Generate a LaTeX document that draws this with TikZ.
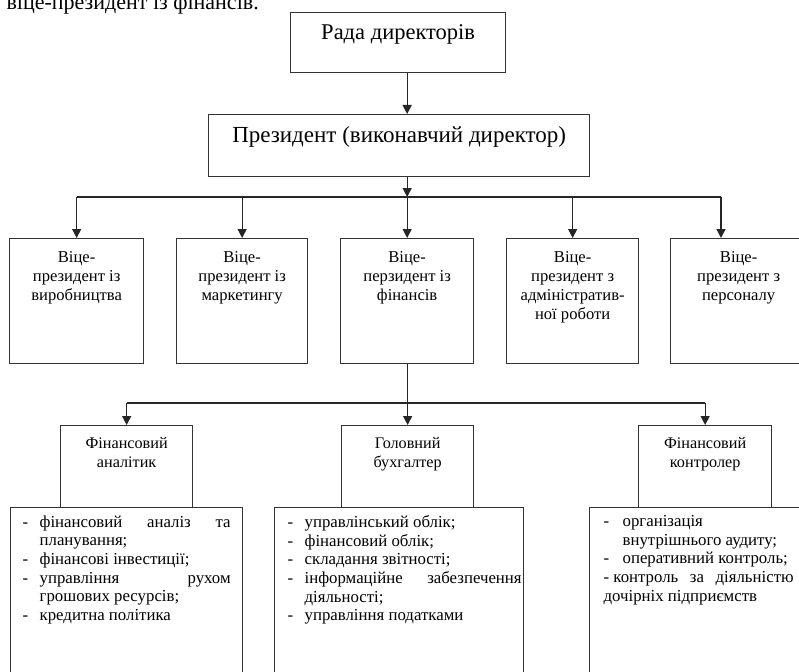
\documentclass[tikz,border=0pt]{standalone}
\usepackage{fontspec}
\setmainfont{Liberation Serif}
\usetikzlibrary{arrows.meta}

\tikzset{
  box/.style={draw=black!80, line width=1.3pt, inner sep=0pt, anchor=north west},
  arr/.style={-{Triangle[length=9pt,width=9pt]}, line width=1.3pt, black!85},
  wire/.style={line width=1.3pt, black!85},
}
% width, height, top skip, text
\newcommand{\topbox}[4]{\parbox[c][#2pt][t]{#1pt}{\centering\vspace*{#3pt}#4}}
% width, height, left margin, right margin, text
\newcommand{\listbox}[5]{\parbox[c][#2pt][t]{#1pt}{\vspace*{8pt}%
  \leftskip=#3pt\rightskip=#4pt\parindent=0pt #5}}
\newcommand{\dl}{\makebox[17pt][l]{-}}
\newcommand{\ind}{\hspace*{17pt}}

\begin{document}
\begin{tikzpicture}[x=1pt,y=-1pt]
  \useasboundingbox (0,0) rectangle (799,671);
  \node[anchor=base west, font=\fontsize{22}{22}\selectfont] (caption) at (3,10)
    {віце-президент із фінансів.};

  \node[box, font=\fontsize{22.5}{26}\selectfont] (rada) at (290,12)
    {\topbox{215}{60}{12}{Рада директорів}};
  \node[box, font=\fontsize{23}{27}\selectfont] (pres) at (208,114)
    {\topbox{381}{62}{12}{Президент (виконавчий директор)}};

  \begin{scope}[every node/.style={box, font=\fontsize{16.6}{19}\selectfont}]
    \node (vp1) at (9,238) {\topbox{134}{125}{13}{Віце-\\президент із\\виробництва}};
    \node (vp2) at (176,238) {\topbox{131}{125}{13}{Віце-\\президент із\\маркетингу}};
    \node (vp3) at (340,238) {\topbox{133}{125}{13}{Віце-\\перзидент із\\фінансів}};
    \node (vp4) at (506,238) {\topbox{132}{125}{13}{Віце-\\президент з\\адміністратив-\\ної роботи}};
    \node (vp5) at (670,238) {\topbox{136}{125}{13}{Віце-\\президент з\\персоналу}};
  \end{scope}

  \begin{scope}[every node/.style={box, font=\fontsize{16.2}{19}\selectfont}]
    \node (fa) at (60,425) {\topbox{132}{82}{12}{Фінансовий\\аналітик}};
    \node (gb) at (341,425) {\topbox{132}{82}{12}{Головний\\бухгалтер}};
    \node (fk) at (638,425) {\topbox{133}{82}{12}{Фінансовий\\контролер}};
  \end{scope}

  \begin{scope}[every node/.style={box, font=\fontsize{16.8}{18.6}\selectfont}]
    \node (faList) at (10,507) {\listbox{232}{175}{12}{12}{%
      \dl фінансовий\hfill аналіз\hfill та\\
      \ind планування;\\
      \dl фінансові інвестиції;\\
      \dl управління\hfill рухом\\
      \ind грошових ресурсів;\\
      \dl кредитна політика}};
    \node (gbList) at (274,507) {\listbox{249}{175}{13}{2}{%
      \dl управлінський облік;\\
      \dl фінансовий облік;\\
      \dl складання звітності;\\
      \dl інформаційне\hfill забезпечення\\
      \ind діяльності;\\
      \dl управління податками}};
    \node (fkList) at (589,507) {\listbox{214}{175}{14}{10}{%
      \makebox[19pt][l]{-}організація\\
      \hspace*{19pt}внутрішнього аудиту;\\
      \makebox[19pt][l]{-}оперативний контроль;\\
      - контроль\hfill за\hfill діяльністю\\
      дочірніх підприємств}};
  \end{scope}

  % top levels
  \coordinate (bar) at (0,197);
  \coordinate (barR) at (721,197);
  \draw[arr] (rada.south -| vp3.north) -- (pres.north -| vp3.north);
  \draw[arr] (pres.south -| vp3.north) -- (bar -| vp3.north);
  \draw[wire] (bar -| vp1.north) -- (barR);
  \foreach \n in {vp1,vp2,vp3,vp4}
    \draw[arr] (bar -| \n.north) -- (\n.north);
  \draw[arr] (barR) -- (barR |- vp5.north);

  % finance branch
  \coordinate (bar2) at (0,403);
  \draw[wire] (vp3.south) -- (bar2 -| vp3.south);
  \draw[wire] (bar2 -| fa.north) -- (bar2 -| fk.north);
  \foreach \n in {fa,gb,fk}
    \draw[arr] (bar2 -| \n.north) -- (\n.north);
\end{tikzpicture}
\end{document}
